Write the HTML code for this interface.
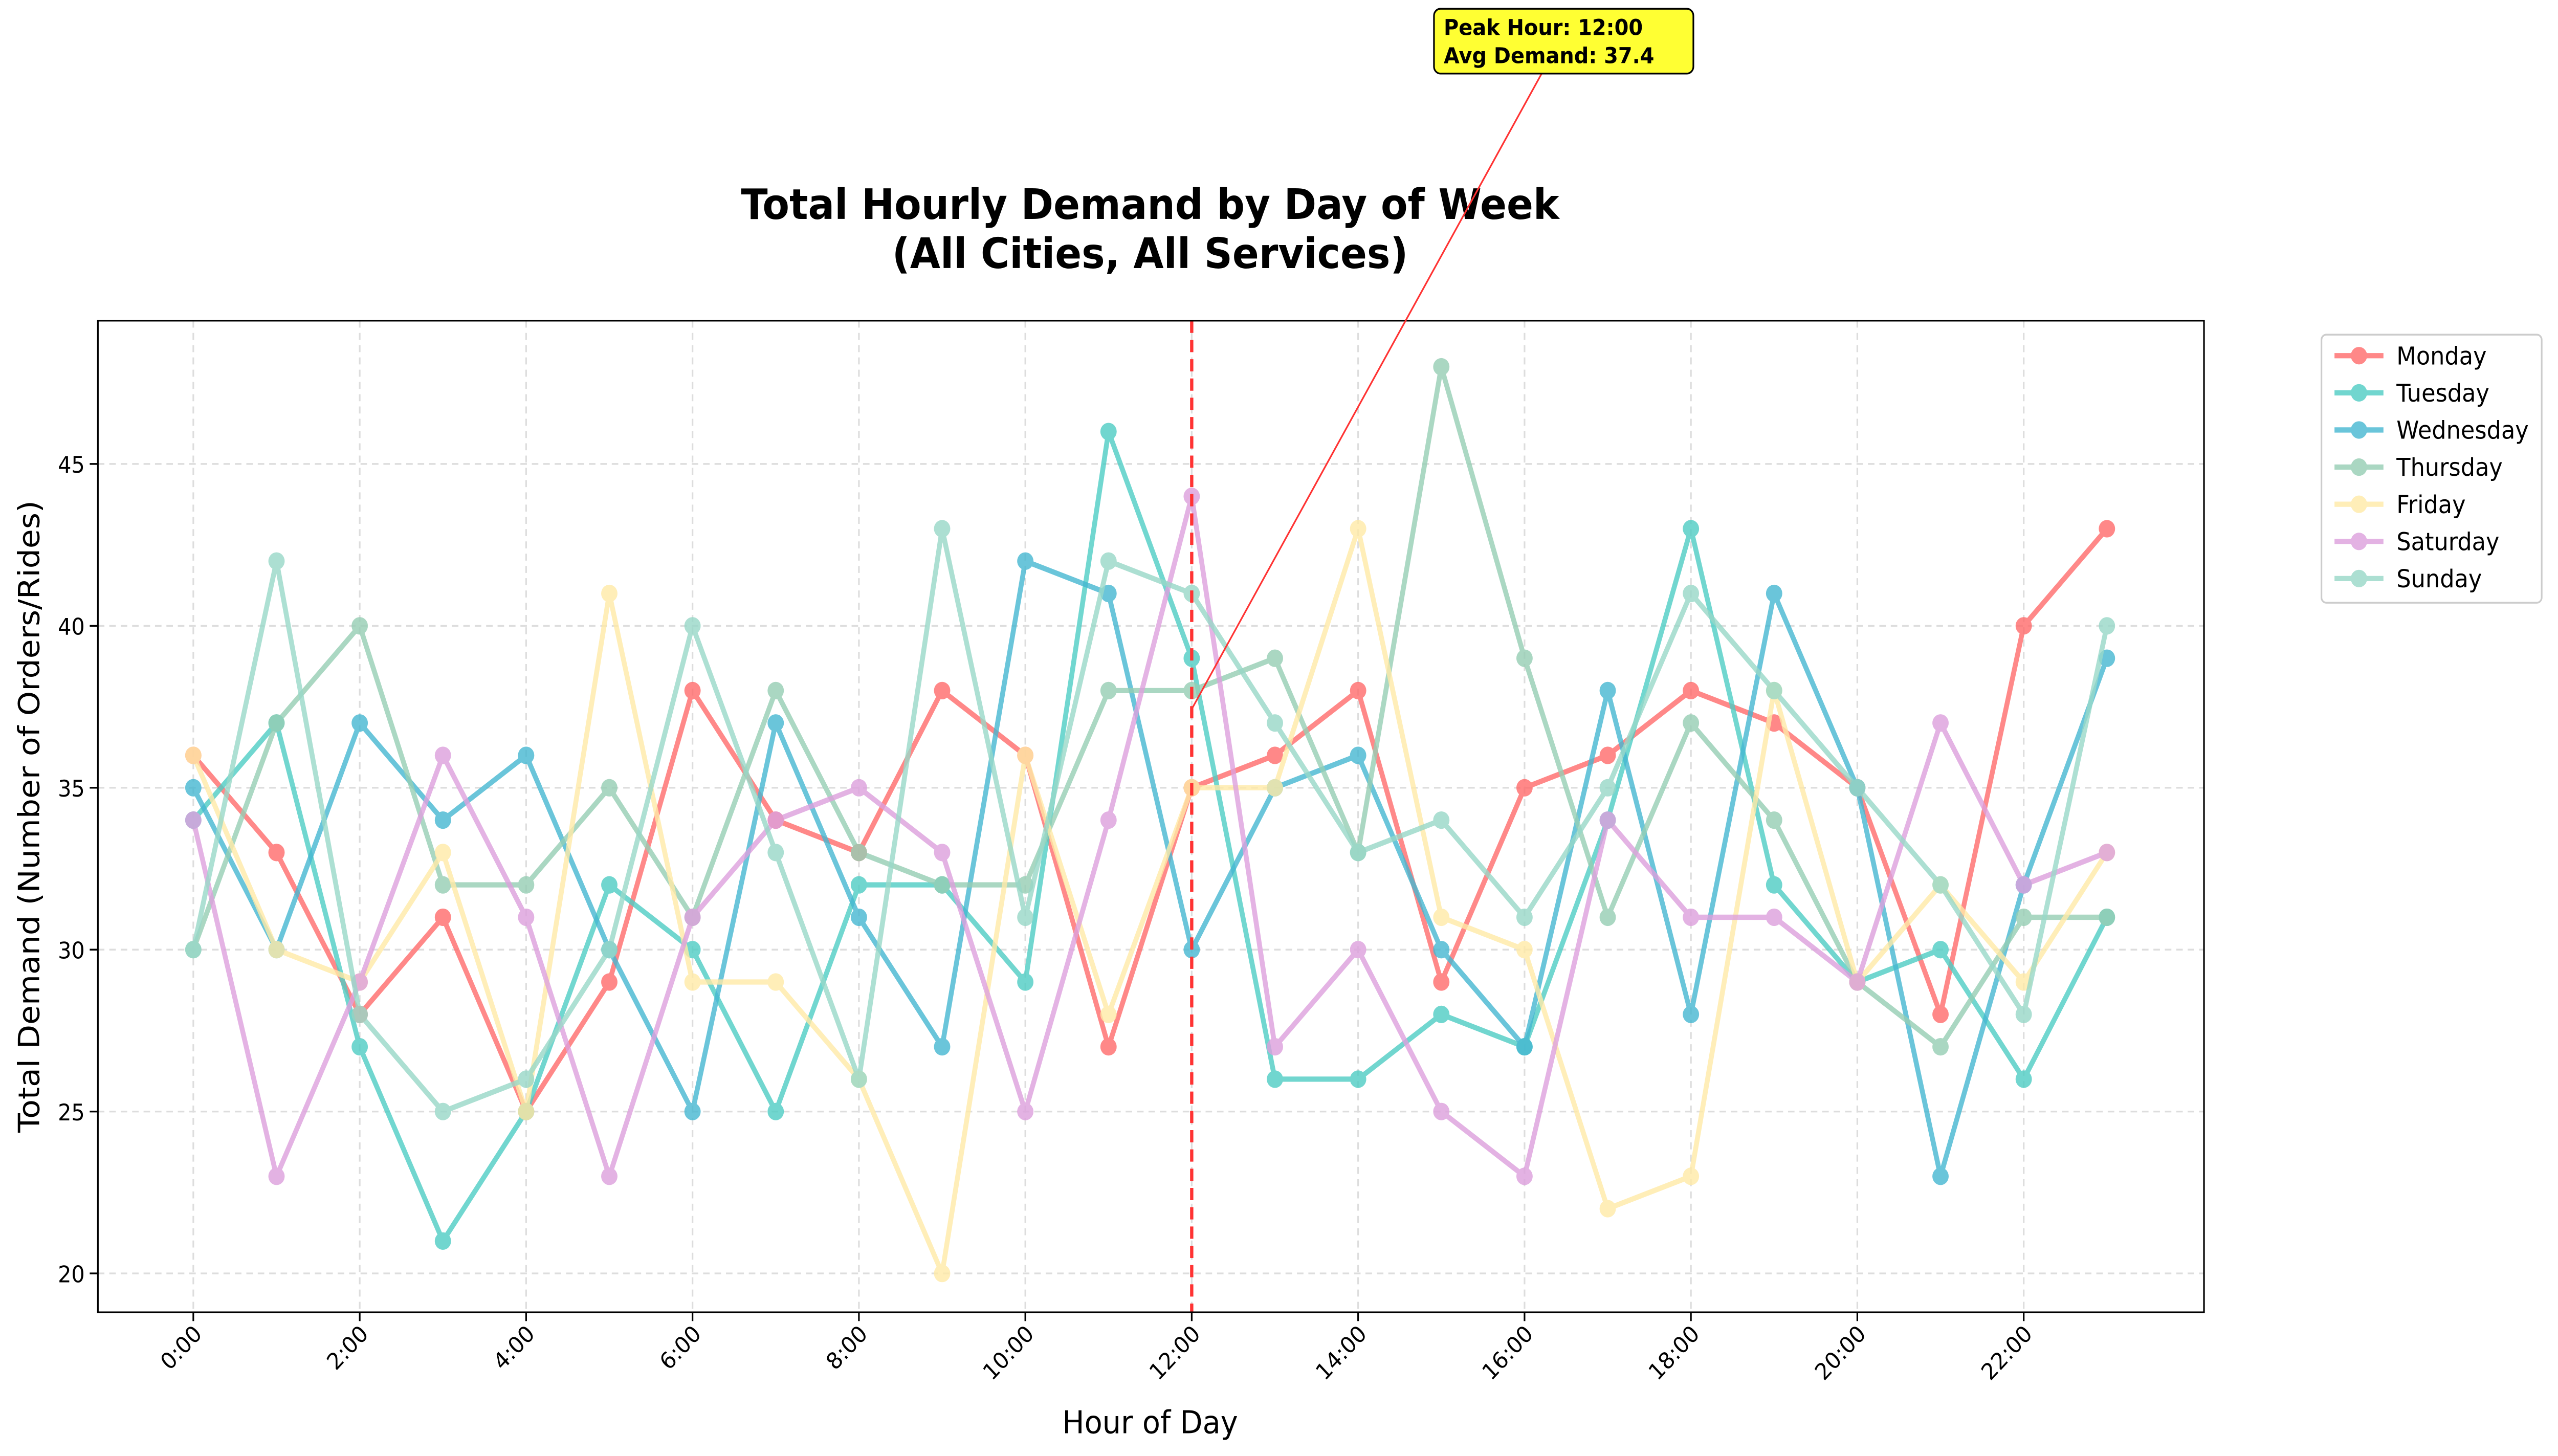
<!DOCTYPE html>
<html><head><meta charset="utf-8"><meta name="viewport" content="width=5370,initial-scale=1"><style>
html,body{margin:0;padding:0;background:#fff;width:100%;height:100%;overflow:hidden;}
svg{display:block;position:absolute;left:0;top:0;width:100vw;height:100vh;font-family:"DejaVu Sans","Liberation Sans",sans-serif;}
</style></head><body>
<svg id="chart" viewBox="0 0 1568 831" preserveAspectRatio="none" xmlns="http://www.w3.org/2000/svg">
<rect width="1568" height="831" fill="#fff"/>
<g id="grid"></g>
<g id="series"></g>
<rect x="60" y="183" width="1291" height="566" fill="none" stroke="#000" stroke-width="1"/>
<g id="axes"></g>
<text x="705" y="125" text-anchor="middle" font-size="24" font-weight="bold">Total Hourly Demand by Day of Week</text>
<text x="705" y="153" text-anchor="middle" font-size="24" font-weight="bold">(All Cities, All Services)</text>
<text x="705" y="818" text-anchor="middle" font-size="18">Hour of Day</text>
<text transform="translate(24,466) rotate(-90)" text-anchor="middle" font-size="18">Total Demand (Number of Orders/Rides)</text>
<g id="annot"></g>
<g id="legend"></g>
</svg>
<script>
const hours = [0,1,2,3,4,5,6,7,8,9,10,11,12,13,14,15,16,17,18,19,20,21,22,23];
const days = ["Monday","Tuesday","Wednesday","Thursday","Friday","Saturday","Sunday"];
const colors = ["#FF6B6B","#4ECDC4","#45B7D1","#96CEB4","#FFEAA7","#DDA0DD","#98D8C8"];
const monday =    [36,33,28,31,25,29,38,34,33,38,36,27,35,36,38,29,35,36,38,37,35,28,40,43];
const tuesday =   [34,37,27,21,25,32,30,25,32,32,29,46,39,26,26,28,27,34,43,32,29,30,26,31];
const wednesday = [35,30,37,34,36,30,25,37,31,27,42,41,30,35,36,30,27,38,28,41,35,23,32,39];
const thursday =  [30,37,40,32,32,35,31,38,33,32,32,38,38,39,33,48,39,31,37,34,29,27,31,31];
const friday =    [36,30,29,33,25,41,29,29,26,20,36,28,35,35,43,31,30,22,23,38,29,32,29,33];
const saturday =  [34,23,29,36,31,23,31,34,35,33,25,34,44,27,30,25,23,34,31,31,29,37,32,33];
const sunday =    [30,42,28,25,26,30,40,33,26,43,31,42,41,37,33,34,31,35,41,38,35,32,28,40];
const seriesData = [monday,tuesday,wednesday,thursday,friday,saturday,sunday];
const yTicks = [20,25,30,35,40,45];
const xTicks = [0,2,4,6,8,10,12,14,16,18,20,22];
const peakHour = 12;

const NS="http://www.w3.org/2000/svg";
const X = h => 118.5 + h*51;
const Y = v => 726.8 - (v-20)*18.48;
function mk(tag, attrs, parent){const e=document.createElementNS(NS,tag);for(const k in attrs)e.setAttribute(k,attrs[k]);parent.appendChild(e);return e;}
const grid=document.getElementById('grid'), axes=document.getElementById('axes'), ser=document.getElementById('series');

yTicks.forEach(v=>{
  const g=mk('line',{x1:60,x2:1351,y1:Y(v),y2:Y(v),stroke:'#ddd','stroke-width':1,'stroke-dasharray':'4,3'},grid);
  
  
  const t=mk('line',{x1:55,x2:60,y1:Y(v),y2:Y(v),stroke:'#000'},axes);
  
  
  const l=mk('text',{x:52,y:Y(v)+5,'text-anchor':'end','font-size':13},axes);
  l.textContent=v;
  
  
});
xTicks.forEach(h=>{
  const g=mk('line',{x1:X(h),x2:X(h),y1:183,y2:749,stroke:'#ddd','stroke-width':1,'stroke-dasharray':'4,3'},grid);
  
  
  const t=mk('line',{x1:X(h),x2:X(h),y1:749,y2:754,stroke:'#000'},axes);
  
  
  const l=mk('text',{transform:`translate(${X(h)+6},${762}) rotate(-45)`,'text-anchor':'end','font-size':13},axes);
  l.textContent=h+':00';
  
  
});

seriesData.forEach((d,i)=>{
  const g=mk('g',{opacity:0.8},ser);
  
  
  const pl=mk('polyline',{points:d.map((v,h)=>X(hours[h])+','+Y(v)).join(' '),fill:'none',stroke:colors[i],'stroke-width':3,'stroke-linejoin':'round'},g);
  
  
  d.forEach((v,h)=>{
    const c=mk('circle',{cx:X(hours[h]),cy:Y(v),r:5,fill:colors[i]},g);
    
    
  });
});

const vl=mk('line',{x1:X(peakHour),x2:X(peakHour),y1:183,y2:749,stroke:'#FF3333','stroke-width':2,'stroke-dasharray':'7,4'},ser);



const avg = seriesData.reduce((s,d)=>s+d[peakHour],0)/seriesData.length;
const an=document.getElementById('annot');
const ar=mk('line',{x1:945,y1:42,x2:X(peakHour),y2:Y(avg),stroke:'#FF3333','stroke-width':1},an);


const bx=mk('rect',{x:879,y:5,width:159,height:37,rx:4,fill:'#FFFF33',stroke:'#000','stroke-width':1},an);


const t1=mk('text',{x:885,y:20,'font-size':12.5,'font-weight':'bold'},an);
t1.textContent='Peak Hour: '+peakHour+':00';


const t2=mk('text',{x:885,y:36,'font-size':12.5,'font-weight':'bold'},an);
t2.textContent='Avg Demand: '+avg.toFixed(1);



const lg=document.getElementById('legend');
const lb=mk('rect',{x:1423,y:191,width:135,height:153,rx:3,fill:'#fff',stroke:'#ccc','stroke-width':1},lg);


days.forEach((d,i)=>{
  const y=203+i*21.2;
  const g=mk('g',{opacity:0.8},lg);
  
  
  mk('line',{x1:1431,x2:1461,y1:y,y2:y,stroke:colors[i],'stroke-width':3},g);
  mk('circle',{cx:1446,cy:y,r:5,fill:colors[i]},g);
  const t=mk('text',{x:1469,y:y+5,'font-size':14},lg);
  t.textContent=d;
  
  
});
</script>
</body></html>
